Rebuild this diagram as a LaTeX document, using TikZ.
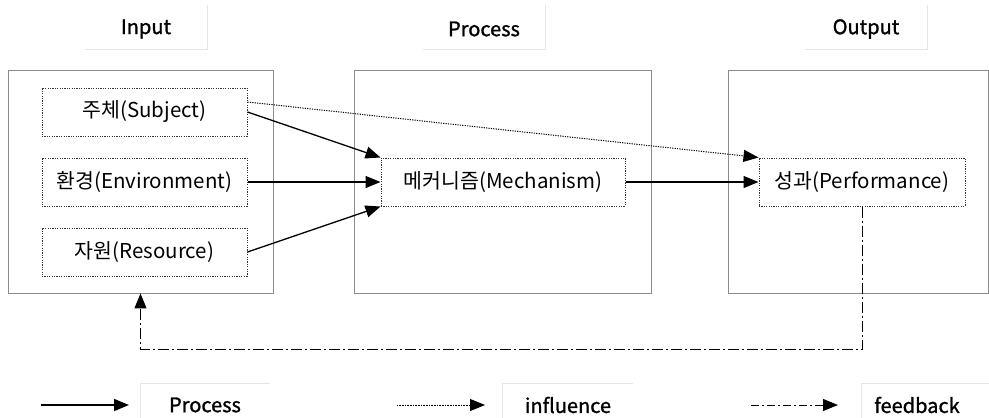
\documentclass[tikz,border=0pt]{standalone}
\usepackage{fontspec}
\setmainfont{Noto Sans CJK KR}
\newfontfamily\hdfont[FakeBold=1.2]{Noto Sans CJK KR}
\usetikzlibrary{arrows.meta,positioning,calc}
\begin{document}
\begin{tikzpicture}[x=1pt,y=-1pt,
  bigbox/.style={draw=black!45,line width=0.9pt,minimum width=#1,minimum height=223pt,inner sep=0pt},
  inbox/.style={draw=black!80,dash pattern=on 1.2pt off 1.2pt,line width=1pt,minimum width=#1,minimum height=48pt,inner sep=0pt,font=\fontsize{20.5}{24}\selectfont},
  hdr/.style={font=\hdfont\fontsize{20}{24}\selectfont,inner sep=0pt},
  leg/.style={font=\hdfont\fontsize{20}{24}\selectfont,inner sep=0pt},
  faint/.style={draw=black!10,line width=0.8pt},
  tip/.style={-{Triangle[length=15pt,width=12pt]}},
  proc/.style={tip,line width=1.3pt},
  infl/.style={tip,line width=1pt,dash pattern=on 1.2pt off 1.2pt},
  fb/.style={tip,line width=1pt,dash pattern=on 11pt off 3pt on 2pt off 3pt}]
\useasboundingbox (0,0) rectangle (989,418);
% headers
\node[hdr] (hin) at (146,29) {Input};
\node[hdr] (hpr) at (484,29) {Process};
\node[hdr] (hout) at (866,29) {Output};
\draw[faint] (207,5) -- (207,49) -- (85,49);
\draw[faint] (545,5) -- (545,49) -- (423,49);
\draw[faint] (927,5) -- (927,49) -- (805,49);
% big boxes
\node[bigbox=265pt] (input) at (140.5,181.5) {};
\node[bigbox=297pt] (process) at (502.5,181.5) {};
\node[bigbox=260pt] (output) at (858,181.5) {};
% inner boxes
\node[inbox=205pt] (subj) at (144.5,112) {주체(Subject)};
\node[inbox=205pt] (env) at (144.5,182) {환경(Environment)};
\node[inbox=205pt] (res) at (144.5,252) {자원(Resource)};
\node[inbox=244pt] (mech) at (503,182) {메커니즘(Mechanism)};
\node[inbox=206pt] (perf) at (862,182) {성과(Performance)};
% connectors
\draw[proc] (subj.east) -- (mech.north west);
\draw[proc] (env.east) -- (mech.west);
\draw[proc] (res.east) -- (mech.south west);
\draw[proc] (mech.east) -- (perf.west);
\draw[infl] ([yshift=10pt]subj.east) -- (perf.north west);
\coordinate (fbc) at (862,349);
\draw[fb] (perf.south) -- (fbc) -| (input.south);
% legend
\coordinate (l1a) at (41,405); \coordinate (l1b) at (129,405);
\coordinate (l2a) at (397,405); \coordinate (l2b) at (485,405);
\coordinate (l3a) at (751,405); \coordinate (l3b) at (838,405);
\draw[proc,line width=1.6pt] (l1a) -- (l1b);
\draw[tip,line width=0.8pt,dash pattern=on 0.8pt off 0.8pt] (l2a) -- (l2b);
\draw[tip,line width=1pt,dash pattern=on 8pt off 3pt on 2pt off 3pt] (l3a) -- (l3b);
\node[leg] (lp) at (205,405) {Process};
\node[leg] (li) at (568,405) {influence};
\node[leg] (lf) at (917,405) {feedback};
\draw[faint] (140,418) -- (140,383) -- (270,383);
\draw[faint] (502,418) -- (502,383) -- (633,383);
\draw[faint] (861,418) -- (861,383) -- (989,383);
\end{tikzpicture}
\end{document}
